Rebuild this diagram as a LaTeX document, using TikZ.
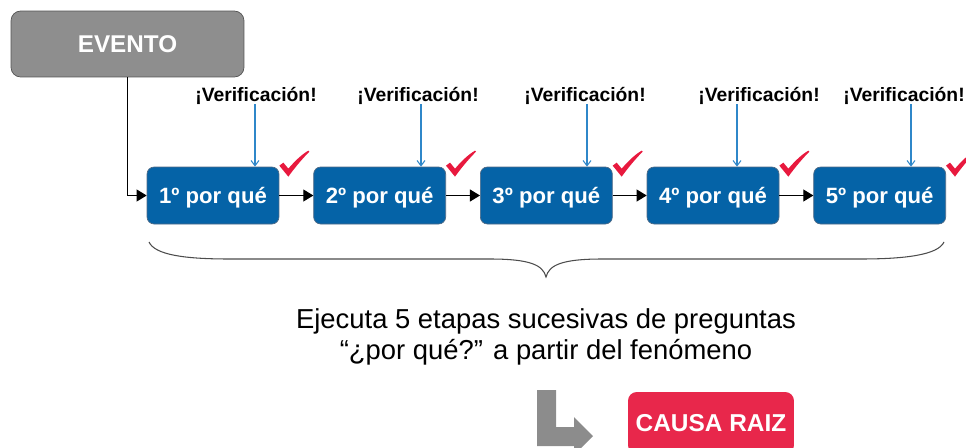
\documentclass[tikz,border=0pt]{standalone}
\usepackage{fontspec}
\setmainfont{Liberation Sans}
\usepackage{tikz}
\usetikzlibrary{positioning, arrows.meta}
\definecolor{boxblue}{HTML}{0563A7}
\definecolor{blueedge}{HTML}{4F6A86}
\definecolor{eventgray}{HTML}{8E8E8E}
\definecolor{eventedge}{HTML}{555555}
\definecolor{verblue}{HTML}{2F87C9}
\definecolor{checkred}{HTML}{E8193E}
\definecolor{rootred}{HTML}{E8274B}
\definecolor{lgray}{HTML}{8C8C8C}

\begin{document}
\begin{tikzpicture}[x=0.02cm, y=-0.02cm,
  whybox/.style={draw=blueedge, fill=boxblue, rounded corners=4pt, minimum width=2.64cm,
    minimum height=1.14cm, text depth=0pt, text=white, font=\fontsize{12.6}{15}\selectfont\bfseries},
  flow/.style={-{Triangle[length=5.7pt,width=6.8pt]}, line width=0.6pt, black},
  verarrow/.style={-{Straight Barb[length=3pt,width=4.5pt]}, line width=0.6pt, verblue},
  verlabel/.style={anchor=base, inner sep=0pt, font=\fontsize{11}{13}\selectfont\bfseries}]
\clip (0,0) rectangle (966,447);

% Event box
\node[draw=eventedge, fill=eventgray, rounded corners=5.5pt, minimum width=4.66cm,
  minimum height=1.32cm, text=white, font=\fontsize{13.8}{16}\selectfont\bfseries]
  (evento) at (127.5,44) {EVENTO};

% The five why steps
\node[whybox] (q1) at (213,195.5) {1º por qué};
\node[whybox, right=0.68cm of q1] (q2) {2º por qué};
\node[whybox, right=0.68cm of q2] (q3) {3º por qué};
\node[whybox, right=0.68cm of q3] (q4) {4º por qué};
\node[whybox, right=0.68cm of q4] (q5) {5º por qué};

\draw[flow] (evento.south) |- (q1.west);
\foreach \i/\j in {1/2,2/3,3/4,4/5}{
  \draw[flow] (q\i) -- (q\j);
}

% Verification labels with arrows and check marks
\foreach \i/\ax/\lx in {1/255/256, 2/421/418, 3/587/585, 4/737/759, 5/911/904}{
  \node[verlabel] (v\i) at (\lx,101) {¡Verificación!};
  \coordinate (a\i) at (\ax,0);
  \draw[verarrow] (a\i |- v\i.south) -- (a\i |- q\i.north);
  \fill[checkred, shift={(q\i.north east)}]
    (0,-1) -- (4,-4) -- (9,2) .. controls (15,-5) and (22,-12) .. (29,-16)
    -- (30,-15) .. controls (22,-7) and (14,3) .. (9,10) -- cycle;
}

% Brace under the steps
\draw[line width=0.6pt, black!70]
  (149,242) .. controls (155,255) and (185,259) .. (230,259) -- (490,259)
  .. controls (530,259) and (543,265) .. (546,277)
  .. controls (549,265) and (562,259) .. (602,259) -- (860,259)
  .. controls (905,259) and (938,255) .. (944,242);
\node[align=center, inner sep=0pt, font=\fontsize{15.6}{18.1}\selectfont] (desc) at (546,337)
  {Ejecuta 5 etapas sucesivas de preguntas\\“¿por qué?” a partir del fenómeno};

% Root cause
\fill[lgray] (537,390) -- (556,390) -- (556,427) -- (574,427) -- (574,417) -- (593,436)
  -- (574,455) -- (574,446) -- (537,446) -- cycle;
\node[fill=rootred, rounded corners=5pt, minimum width=3.32cm, minimum height=1.24cm,
  text=white, font=\fontsize{13.9}{16}\selectfont\bfseries] (causa) at (711,423) {CAUSA RAIZ};
\end{tikzpicture}
\end{document}
